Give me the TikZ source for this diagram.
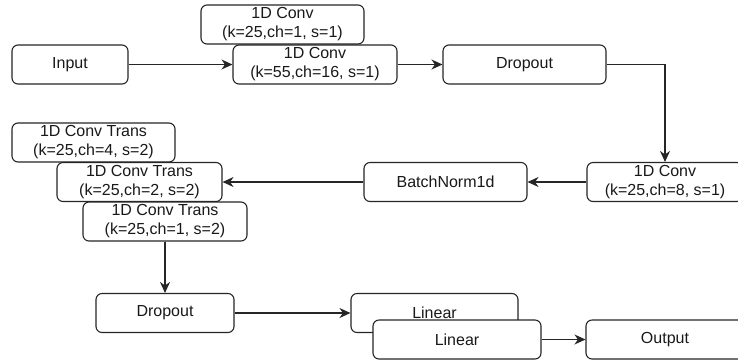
\documentclass[tikz,border=0pt]{standalone}
\usepackage{fontspec}
\setmainfont{Liberation Sans}
\usetikzlibrary{arrows.meta}
\begin{document}
\begin{tikzpicture}[x=1pt,y=-1pt,
  box/.style={draw=black!85, line width=1.1pt, rounded corners=6pt, fill=white,
    minimum height=39pt, inner sep=0pt, align=center,
    font=\fontsize{16}{19}\selectfont, text=black!90},
  conn/.style={draw=black!85, line width=1.1pt, -{Stealth[length=11pt,width=10pt,inset=3.5pt]}}]
\clip (0,0) rectangle (738,360);
\fill[white] (0,0) rectangle (738,360);
\node[box, minimum width=116pt] (input) at (70,64.5) {Input};
\node[box, minimum width=163pt] (conv1) at (282.5,24.5) {1D Conv\\(k=25,ch=1, s=1)};
\node[box, minimum width=164pt] (conv2) at (315,64.5) {1D Conv\\(k=55,ch=16, s=1)};
\node[box, minimum width=163pt] (drop1) at (524.5,64.5) {Dropout};
\node[box, minimum width=156pt] (conv3) at (665,182) {1D Conv\\(k=25,ch=8, s=1)};
\node[box, minimum width=163pt] (bn) at (445.5,182) {BatchNorm1d};
\node[box, minimum width=163pt] (ct1) at (93.5,142.5) {1D Conv Trans\\(k=25,ch=4, s=2)};
\node[box, minimum width=165pt] (ct2) at (139.5,182) {1D Conv Trans\\(k=25,ch=2, s=2)};
\node[box, minimum width=164pt] (ct3) at (165,221.5) {1D Conv Trans\\(k=25,ch=1, s=2)};
\node[box, minimum width=138pt] (drop2) at (165,313) {Dropout};
\node[box, minimum width=167pt] (lin1) at (434.5,313) {Linear};
\node[box, minimum width=168pt] (lin2) at (457,339.5) {Linear};
\node[box, minimum width=158pt] (out) at (665,339.5) {Output};
\draw[conn] (input.east) -- (conv2.west);
\draw[conn] (conv2.east) -- (drop1.west);
\draw[conn] (drop1.east) -| (conv3.north);
\draw[conn] (conv3.west) -- (bn.east);
\draw[conn] (bn.west) -- (ct2.east);
\draw[conn] (ct3.south) -- (drop2.north);
\draw[conn] (drop2.east) -- (lin1.west);
\draw[conn] (lin2.east) -- (out.west);
\end{tikzpicture}
\end{document}
